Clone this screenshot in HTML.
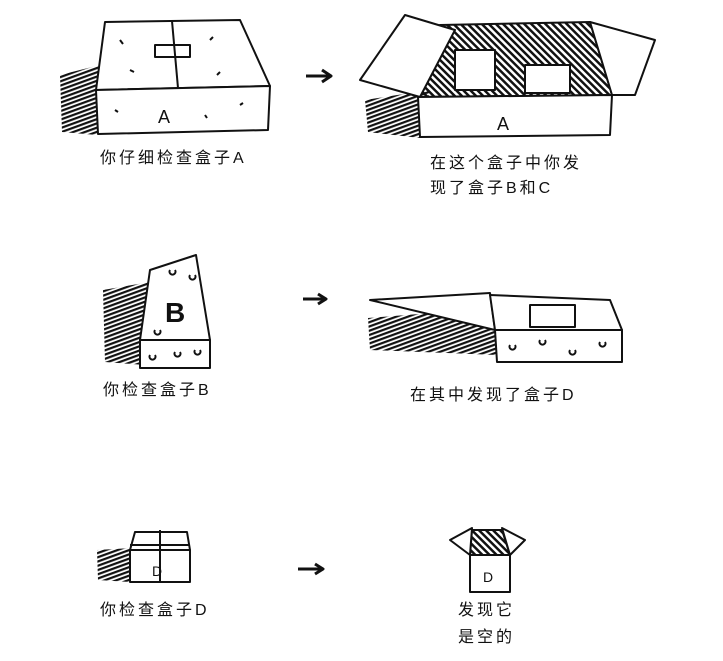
<!DOCTYPE html>
<html><head><meta charset="utf-8"><style>
html,body{margin:0;padding:0;background:#fff;}
svg{display:block}
text{font-family:"Liberation Sans","Noto Sans CJK SC","WenQuanYi Zen Hei",sans-serif;font-size:16px;letter-spacing:3px;fill:#111;}
</style></head><body>
<svg width="723" height="661" viewBox="0 0 723 661" xmlns="http://www.w3.org/2000/svg">
<defs>
<pattern id="h" width="4" height="4" patternUnits="userSpaceOnUse" patternTransform="rotate(-20)"><rect width="4" height="2.2" fill="#111"/></pattern>
<pattern id="d" width="5" height="5" patternUnits="userSpaceOnUse" patternTransform="rotate(45)"><rect width="5" height="2.5" fill="#111"/></pattern>
</defs>
<g fill="none" stroke="#111" stroke-width="2" stroke-linejoin="round">
<polygon points="60,75 100,65 97,135 62,132" fill="url(#h)" stroke="none"/>
<polygon points="105,22 240,20 270,86 96,90" fill="#fff"/>
<polygon points="96,90 270,86 268,130 98,134" fill="#fff"/>
<line x1="172" y1="21" x2="178" y2="88"/>
<rect x="155" y="45" width="35" height="12"/>
<path d="M120,40 l3,4 M210,40 l3,-3 M130,70 l4,2 M220,72 l-3,3 M115,110 l3,2 M240,105 l3,-2 M205,115 l2,3"/>
<text x="158" y="123" stroke="none" style="font-size:18px">A</text>
<path d="M306,76 L330,76 M322,70 L331,76 L322,82" stroke-width="3"/>
<polygon points="365,100 430,90 420,138 368,132" fill="url(#h)" stroke="none"/>
<polygon points="440,25 590,22 612,95 418,97" fill="url(#d)"/>
<polygon points="360,80 405,15 455,30 420,97" fill="#fff"/>
<polygon points="590,22 655,40 635,95 612,95" fill="#fff"/>
<polygon points="418,97 612,95 610,135 420,137" fill="#fff"/>
<rect x="455" y="50" width="40" height="40" fill="#fff"/>
<rect x="525" y="65" width="45" height="28" fill="#fff"/>
<text x="497" y="130" stroke="none" style="font-size:18px">A</text>
<polygon points="103,290 150,282 145,365 105,362" fill="url(#h)" stroke="none"/>
<polygon points="150,270 196,255 210,340 140,340" fill="#fff"/>
<polygon points="140,340 210,340 210,368 140,368" fill="#fff"/>
<path d="M170,270 a3,3 0 1,0 5,0 M190,275 a3,3 0 1,0 5,0 M155,330 a3,3 0 1,0 5,0 M150,355 a3,3 0 1,0 5,0 M175,352 a3,3 0 1,0 5,0 M195,350 a3,3 0 1,0 5,0"/>
<text x="165" y="322" stroke="none" style="font-size:28px;font-weight:bold">B</text>
<path d="M303,299 L325,299 M318,294 L326,299 L318,304" stroke-width="3"/>
<polygon points="368,318 495,308 497,355 370,350" fill="url(#h)" stroke="none"/>
<polygon points="370,300 490,293 495,330" fill="#fff"/>
<polygon points="490,295 610,300 622,330 495,330" fill="#fff"/>
<polygon points="495,330 622,330 622,362 497,362" fill="#fff"/>
<path d="M510,345 a3,3 0 1,0 5,0 M540,340 a3,3 0 1,0 5,0 M570,350 a3,3 0 1,0 5,0 M600,342 a3,3 0 1,0 5,0"/>
<rect x="530" y="305" width="45" height="22" fill="#fff"/>
<polygon points="97,550 132,548 130,582 98,580" fill="url(#h)" stroke="none"/>
<polygon points="130,550 190,550 190,582 130,582" fill="#fff"/>
<polygon points="130,550 135,532 187,532 190,550" fill="#fff"/>
<path d="M160,530 L160,582 M130,545 L190,545"/>
<text x="152" y="576" stroke="none" style="font-size:14px">D</text>
<path d="M298,569 L322,569 M315,564 L323,569 L315,574" stroke-width="3"/>
<polygon points="472,530 502,530 510,555 470,555" fill="url(#d)"/>
<polygon points="470,555 450,540 472,528" fill="#fff"/>
<polygon points="510,555 525,540 502,528" fill="#fff"/>
<polygon points="470,555 510,555 510,592 470,592" fill="#fff"/>
<text x="483" y="582" stroke="none" style="font-size:14px;letter-spacing:0">D</text>
</g>
<text x="100" y="163">你仔细检查盒子A</text>
<text x="430" y="168">在这个盒子中你发</text>
<text x="430" y="193">现了盒子B和C</text>
<text x="103" y="395">你检查盒子B</text>
<text x="410" y="400">在其中发现了盒子D</text>
<text x="100" y="615">你检查盒子D</text>
<text x="458" y="615">发现它</text>
<text x="458" y="642">是空的</text>
</svg>
</body></html>
